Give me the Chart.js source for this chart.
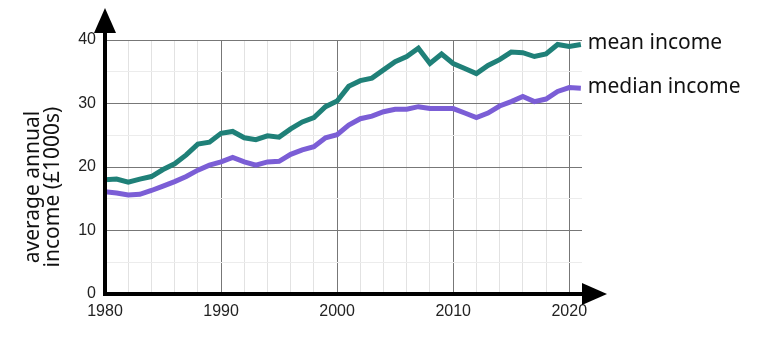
<!DOCTYPE html>
<html>
<head>
<meta charset="utf-8">
<script src="https://cdn.jsdelivr.net/npm/chart.js@4"></script>
<style>
  html, body { margin: 0; padding: 0; background: #fff; }
  #wrap { width: 767px; height: 353px; }
</style>
</head>
<body>
<div id="wrap"><canvas id="chart" width="767" height="353"></canvas></div>
<script>
// data
const years = [1980, 1981, 1982, 1983, 1984, 1985, 1986, 1987, 1988, 1989,
               1990, 1991, 1992, 1993, 1994, 1995, 1996, 1997, 1998, 1999,
               2000, 2001, 2002, 2003, 2004, 2005, 2006, 2007, 2008, 2009,
               2010, 2011, 2012, 2013, 2014, 2015, 2016, 2017, 2018, 2019,
               2020, 2021];
const meanIncome = [18.0, 18.1, 17.6, 18.1, 18.5, 19.6, 20.5, 21.9, 23.6, 23.9,
                    25.3, 25.6, 24.6, 24.3, 24.9, 24.7, 26.0, 27.1, 27.8, 29.5,
                    30.4, 32.7, 33.6, 34.0, 35.3, 36.6, 37.4, 38.7, 36.3, 37.8,
                    36.3, 35.5, 34.7, 36.0, 36.9, 38.1, 38.0, 37.4, 37.8, 39.3,
                    39.0, 39.3];
const medianIncome = [16.1, 15.9, 15.6, 15.7, 16.3, 17.0, 17.7, 18.5, 19.5, 20.3,
                      20.8, 21.5, 20.8, 20.3, 20.8, 20.9, 22.0, 22.7, 23.2, 24.6,
                      25.1, 26.6, 27.6, 28.0, 28.7, 29.1, 29.1, 29.5, 29.2, 29.2,
                      29.2, 28.5, 27.8, 28.5, 29.6, 30.3, 31.1, 30.3, 30.7, 31.9,
                      32.5, 32.4];
const seriesNames = ['mean income', 'median income'];
const xTickLabels = [1980, 1990, 2000, 2010, 2020];
const yTickLabels = [0, 10, 20, 30, 40];
const yTitle = ['average annual', 'income (£1000s)'];

const teal = '#1f8078';
const purple = '#7b5ed6';
const majorGrid = '#777777';
const minorGrid = '#e2e2e2';

function pts(vals) {
    return years.map((yr, i) => ({ x: yr, y: vals[i] }));
}

// black axes with arrow heads, drawn over the lines
const axisArrows = {
    id: 'axisArrows',
    afterDatasetsDraw(chart) {
        const { ctx, chartArea: a } = chart;
        ctx.save();
        ctx.strokeStyle = '#000';
        ctx.fillStyle = '#000';
        ctx.lineWidth = 4;
        ctx.beginPath();
        ctx.moveTo(a.left, a.bottom);
        ctx.lineTo(a.left, 28);
        ctx.moveTo(a.left - 2, a.bottom);
        ctx.lineTo(588, a.bottom);
        ctx.stroke();
        // y arrow
        ctx.beginPath();
        ctx.moveTo(a.left, 8);
        ctx.lineTo(a.left - 11, 33);
        ctx.lineTo(a.left + 11, 33);
        ctx.closePath();
        ctx.fill();
        // x arrow
        ctx.beginPath();
        ctx.moveTo(607, a.bottom);
        ctx.lineTo(582, a.bottom - 11);
        ctx.lineTo(582, a.bottom + 11);
        ctx.closePath();
        ctx.fill();
        ctx.restore();
    },
    afterDraw(chart) {
        const { ctx, scales } = chart;
        ctx.save();
        // y axis title, two rotated lines
        ctx.fillStyle = '#111';
        ctx.font = '21px "Noto Sans"';
        ctx.textAlign = 'center';
        ctx.textBaseline = 'middle';
        ctx.translate(0, 187);
        ctx.rotate(-Math.PI / 2);
        ctx.fillText(yTitle[0], 0, 33);
        ctx.fillText(yTitle[1], 0, 53);
        ctx.restore();

        // series labels at the end of each line
        ctx.save();
        ctx.font = '21px "Noto Sans"';
        ctx.fillStyle = '#111';
        ctx.textAlign = 'left';
        ctx.textBaseline = 'middle';
        chart.data.datasets.forEach((ds) => {
            const last = ds.data[ds.data.length - 1];
            const px = scales.x.getPixelForValue(last.x);
            const py = scales.y.getPixelForValue(last.y);
            ctx.fillText(ds.label, px + 7, py - 1);
        });
        ctx.restore();
    }
};

const ctx = document.getElementById('chart').getContext('2d');
new Chart(ctx, {
    type: 'line',
    data: {
        datasets: [
            { label: seriesNames[0], data: pts(meanIncome), borderColor: teal, borderWidth: 5, pointRadius: 0, tension: 0 },
            { label: seriesNames[1], data: pts(medianIncome), borderColor: purple, borderWidth: 5, pointRadius: 0, tension: 0 }
        ]
    },
    options: {
        responsive: false,
        animation: false,
        layout: { padding: { left: 0, top: 40, right: 185, bottom: 0 } },
        plugins: { legend: { display: false }, tooltip: { enabled: false } },
        scales: {
            x: {
                type: 'linear',
                min: 1980,
                max: 2021.1,
                afterFit(scale) { scale.height = 59; },
                ticks: {
                    stepSize: 1,
                    autoSkip: false,
                    maxRotation: 0,
                    padding: 8,
                    color: '#222',
                    font: { family: '"Liberation Sans", Arial', size: 16 },
                    callback: (v) => xTickLabels.includes(v) ? String(v) : ''
                },
                grid: {
                    drawTicks: false,
                    color: (c) => {
                        const v = c.tick.value;
                        if (v % 10 === 0) return majorGrid;
                        if (v % 2 === 0) return minorGrid;
                        return 'rgba(0,0,0,0)';
                    }
                },
                border: { display: false }
            },
            y: {
                min: 0,
                max: 40,
                afterFit(scale) { scale.width = 105; },
                ticks: {
                    stepSize: 5,
                    padding: 9,
                    color: '#222',
                    font: { family: '"Liberation Sans", Arial', size: 16 },
                    callback: (v) => yTickLabels.includes(v) ? String(v) : ''
                },
                grid: {
                    drawTicks: false,
                    color: (c) => c.tick.value % 10 === 0 ? majorGrid : '#ececec'
                },
                border: { display: false }
            }
        }
    },
    plugins: [axisArrows]
});
</script>
</body>
</html>
